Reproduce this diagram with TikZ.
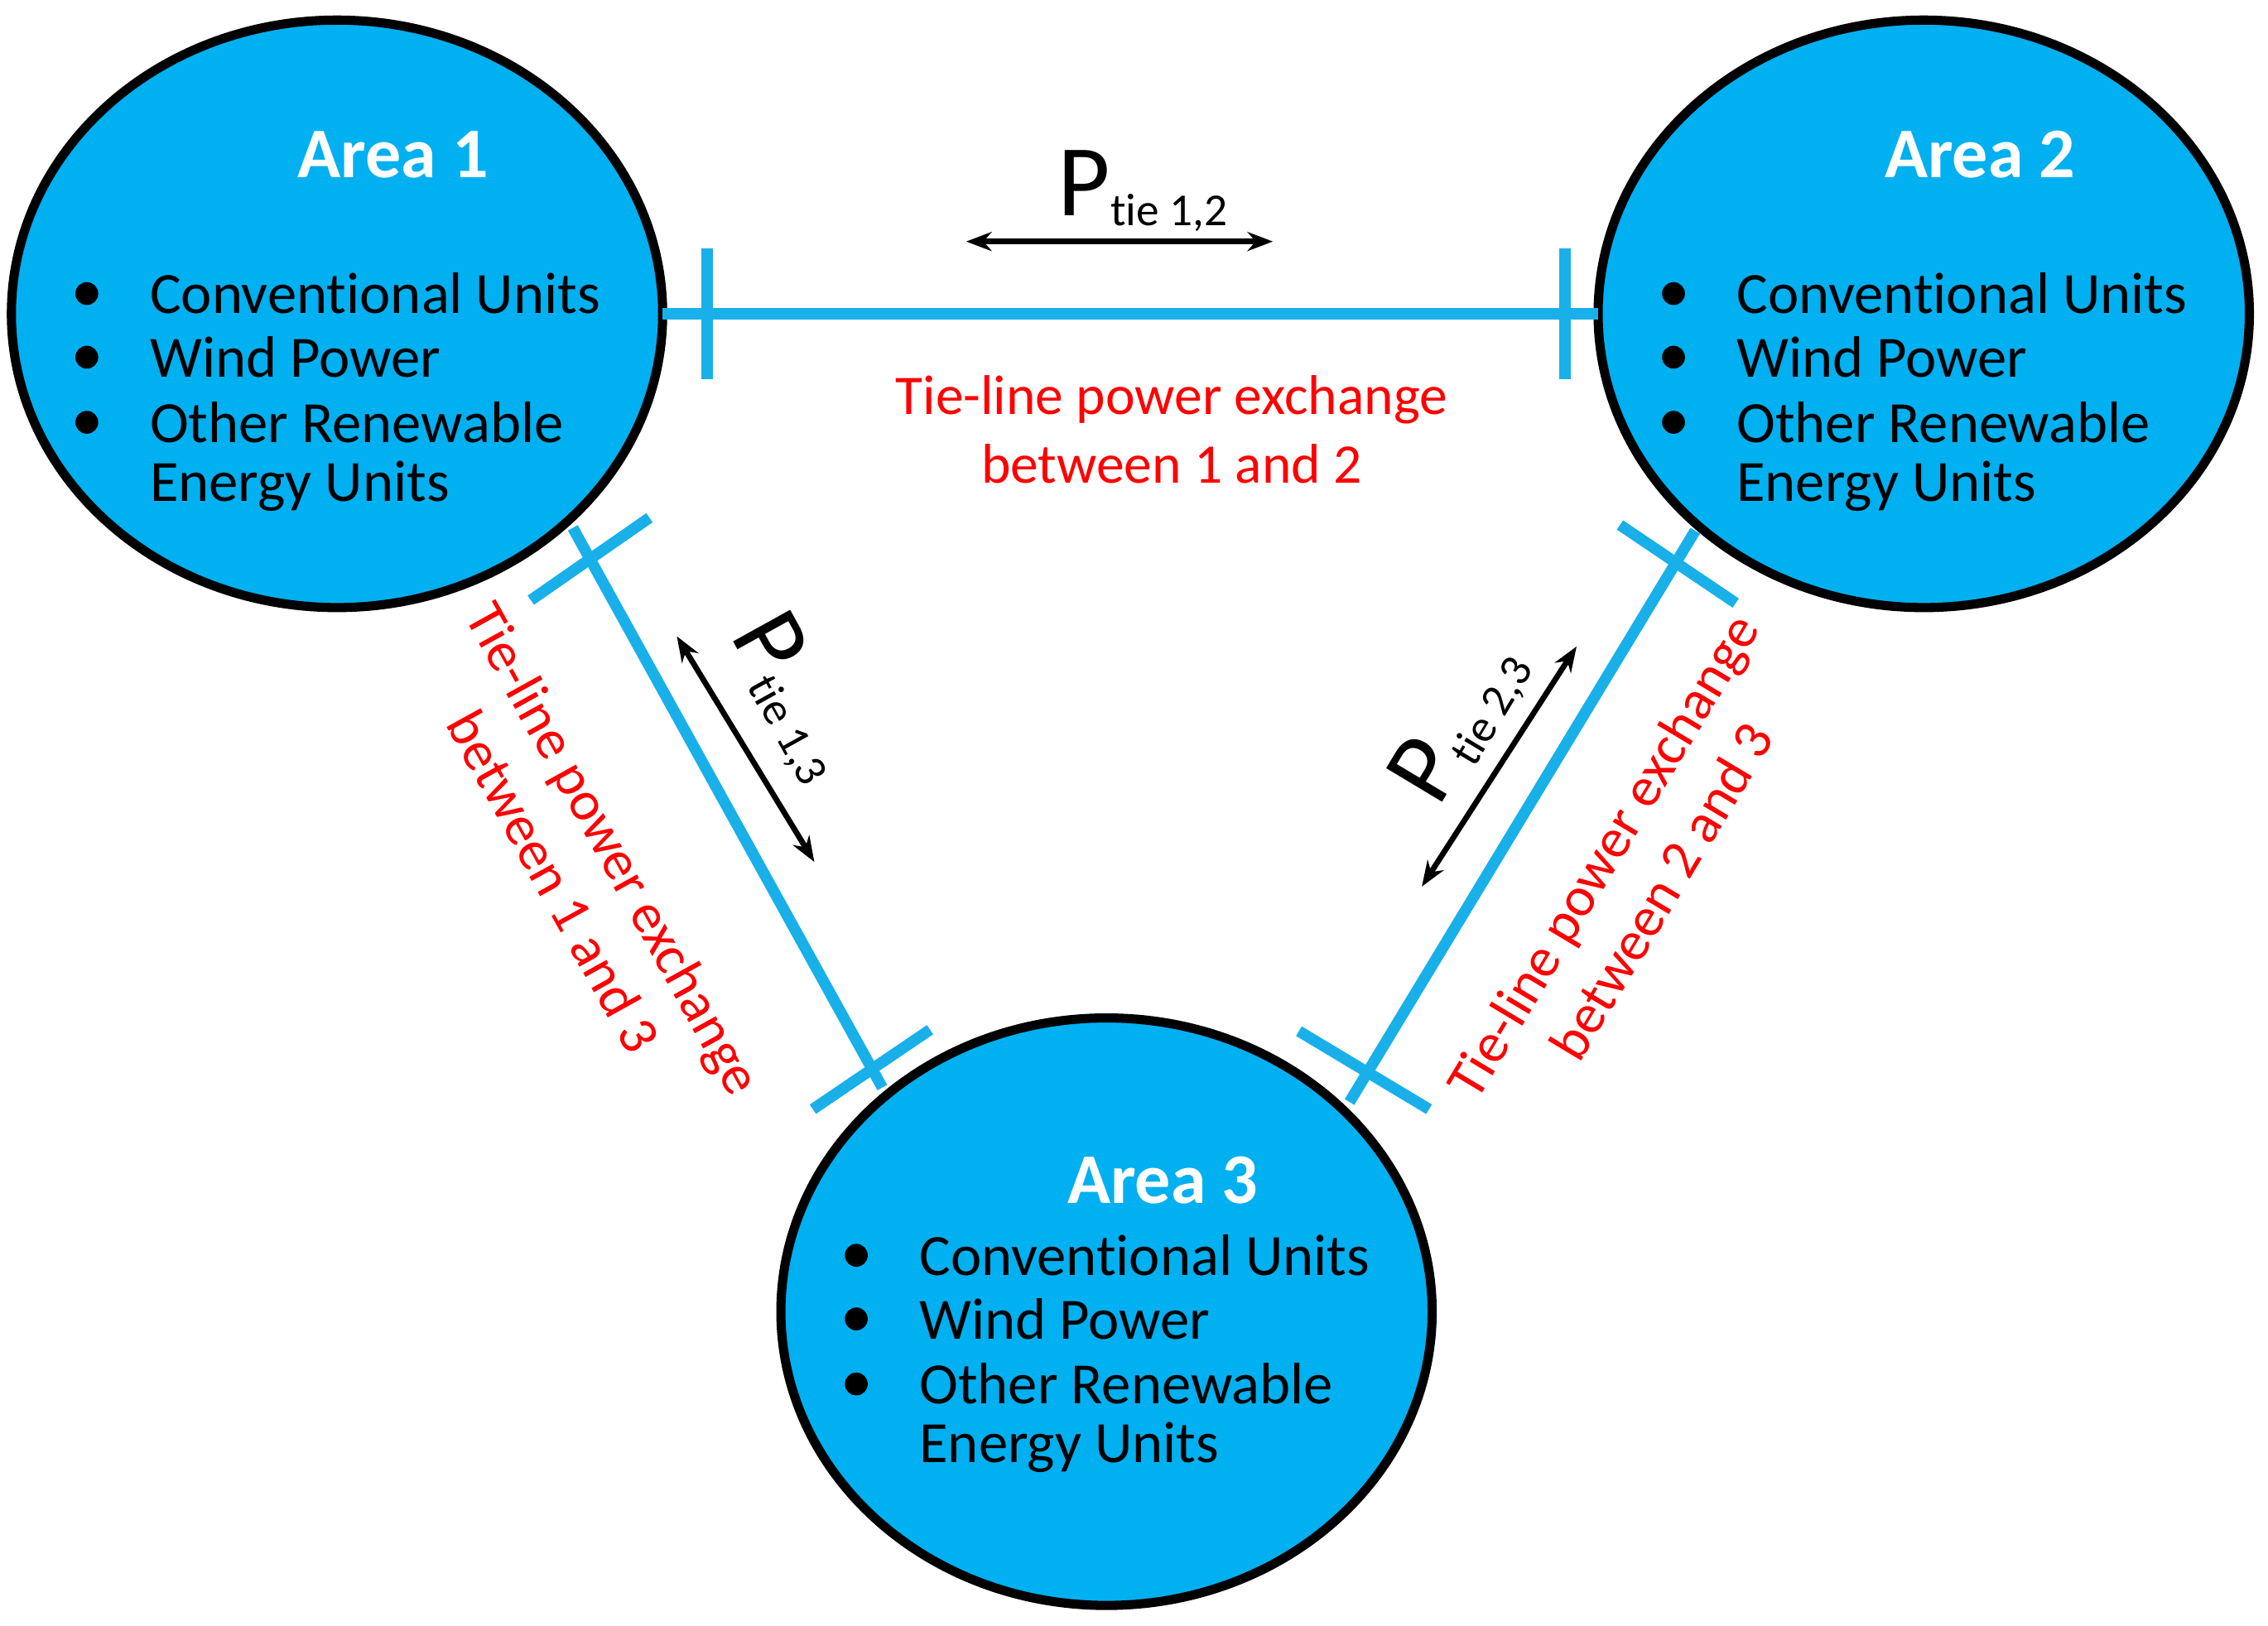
\documentclass[tikz,border=0pt]{standalone}
\usepackage{fontspec}
\setmainfont{Carlito}[Ligatures={NoCommon,NoRare}]
\usetikzlibrary{arrows.meta,shapes.geometric}
\definecolor{areab}{HTML}{00B0F0}
\definecolor{tie}{HTML}{19B0EA}
\begin{document}
\begin{tikzpicture}[x=0.01cm,y=-0.01cm,
 area/.style={ellipse,draw=black,line width=1.8pt,fill=areab,minimum width=4.5cm,minimum height=4.06cm,inner sep=0},
 ttl/.style={text=white,font=\fontsize{14}{16}\selectfont\bfseries},
 itm/.style={anchor=west,font=\fontsize{11.5}{13}\selectfont,inner sep=0},
 bul/.style={circle,fill=black,inner sep=0,minimum size=4.5pt},
 tl/.style={tie,line width=2.2pt},
 pa/.style={black,line width=1.1pt,{Stealth[length=5pt]}-{Stealth[length=5pt]}},
 red/.style={text=red,font=\fontsize{11}{13.5}\selectfont,align=center}]
\useasboundingbox (0,0) rectangle (1568,1124);
\node[area] (a1) at (233,217) {};
\node[area] (a2) at (1330,217) {};
\node[area] (a3) at (765,907) {};
\node[ttl] (t1) at (272,107) {Area 1};
\node[ttl] (t2) at (1369,107) {Area 2};
\node[ttl] (t3) at (804,816) {Area 3};
\foreach \n/\x/\y in {1/0/0,2/1097/0,3/532/665}{
 \node[bul] (b\n a) at (60+\x,203+\y) {};
 \node[bul] (b\n b) at (60+\x,247+\y) {};
 \node[bul] (b\n c) at (60+\x,292+\y) {};
 \node[itm] (i\n a) at (103+\x,203+\y) {Conventional Units};
 \node[itm] (i\n b) at (103+\x,247+\y) {Wind Power};
 \node[itm] (i\n c) at (103+\x,292+\y) {Other Renewable};
 \node[itm] (i\n d) at (103+\x,336+\y) {Energy Units};
}
% tie lines
\coordinate (e12a) at (458,217); \coordinate (e12b) at (1105,217);
\draw[tl] (e12a) -- (e12b);
\coordinate (k1a) at (489,172); \coordinate (k1b) at (489,262);
\coordinate (k2a) at (1082,172); \coordinate (k2b) at (1082,262);
\draw[tl] (k1a)--(k1b); \draw[tl] (k2a)--(k2b);
\coordinate (e13a) at (396,365); \coordinate (e13b) at (610,752);
\draw[tl] (e13a) -- (e13b);
\coordinate (k3a) at (367,415); \coordinate (k3b) at (449,358);
\coordinate (k4a) at (562,767); \coordinate (k4b) at (643,712);
\draw[tl] (k3a)--(k3b); \draw[tl] (k4a)--(k4b);
\coordinate (e23a) at (1172,367); \coordinate (e23b) at (933,762);
\draw[tl] (e23a) -- (e23b);
\coordinate (k5a) at (1120,363); \coordinate (k5b) at (1200,417);
\coordinate (k6a) at (898,713); \coordinate (k6b) at (988,767);
\draw[tl] (k5a)--(k5b); \draw[tl] (k6a)--(k6b);
% power arrows
\coordinate (p12a) at (668,167); \coordinate (p12b) at (880,167);
\draw[pa] (p12a)--(p12b);
\coordinate (p13a) at (468,440); \coordinate (p13b) at (563,596);
\draw[pa] (p13a)--(p13b);
\coordinate (p23a) at (1090,447); \coordinate (p23b) at (983,613);
\draw[pa] (p23a)--(p23b);
\node[font=\fontsize{20}{22}\selectfont] (l12) at (790,132) {P\raisebox{-0.2ex}{\fontsize{9}{10}\selectfont tie 1,2}};
\node[font=\fontsize{20}{22}\selectfont,rotate=-61] (l13) at (548,482) {P\raisebox{-0.2ex}{\fontsize{9}{10}\selectfont tie 1,3}};
\node[font=\fontsize{20}{22}\selectfont,rotate=59] (l23) at (1010,500) {P\raisebox{-0.2ex}{\fontsize{9}{10}\selectfont tie 2,3}};
\node[red] (r12) at (810,297) {Tie-line power exchange\\between 1 and 2};
\node[red,rotate=-61] (r13) at (404,598) {Tie-line power exchange\\between 1 and 3};
\node[red,rotate=59] (r23) at (1128,604) {Tie-line power exchange\\between 2 and 3};
\end{tikzpicture}
\end{document}
